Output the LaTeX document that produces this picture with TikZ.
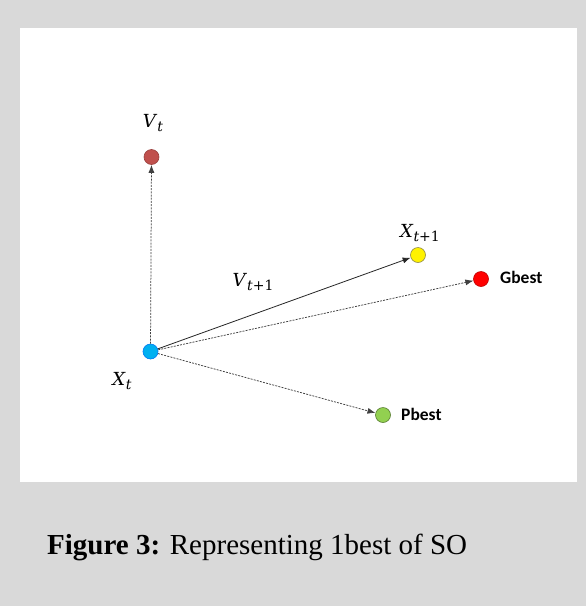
\documentclass[tikz,border=0pt]{standalone}
\usepackage{fontspec}
\setmainfont{Liberation Serif}
\newfontfamily\labfont{Carlito}
\newfontfamily\mlabfont{DejaVu Serif}
\usetikzlibrary{arrows.meta}
\definecolor{bggray}{HTML}{D9D9D9}
\definecolor{vtcol}{HTML}{C0504D}
\definecolor{xtcol}{HTML}{00B0F0}
\definecolor{pbcol}{HTML}{92D050}
\newcommand{\msub}[2]{\textit{#1}\raisebox{-4pt}{\fontsize{14}{16}\selectfont #2}}
\begin{document}
\begin{tikzpicture}[x=1pt,y=-1pt,
  pt/.style={circle,inner sep=0pt,minimum size=15pt,line width=0.6pt},
  mlab/.style={inner sep=0pt,font=\mlabfont\fontsize{18}{20}\selectfont},
  blab/.style={inner sep=0pt,anchor=west,font=\labfont\bfseries\fontsize{17.5}{19}\selectfont},
  dline/.style={draw=black!75,line width=0.75pt,dash pattern=on 2pt off 1.2pt,-{Latex[length=8pt,width=6pt]}},
  sline/.style={draw=black!85,line width=0.8pt,-{Latex[length=8pt,width=6pt]}}]
\fill[bggray] (0,0) rectangle (586,606);
\useasboundingbox (0,0) rectangle (586,606);
\fill[white] (20,28) rectangle (577,482);
% points
\node[pt,fill=xtcol,draw=xtcol!70!blue] (xt) at (150.5,351.5) {};
\node[pt,fill=vtcol,draw=vtcol!80!black] (vt) at (151.5,157) {};
\node[pt,fill=yellow,draw=yellow!50!black] (xt1) at (418,255) {};
\node[pt,fill=red,draw=red!75!black] (gb) at (481,279) {};
\node[pt,fill=pbcol,draw=pbcol!60!black] (pb) at (383,415) {};
% labels
\node[mlab] (lvt) at (153,123) {\msub{V}{\textit{t}}};
\node[mlab] (lxt) at (122,381) {\msub{X}{\textit{t}}};
\node[mlab] (lxt1) at (420,233) {\msub{X}{\textit{t}+1}};
\node[mlab] (lvt1) at (253,282) {\msub{V}{\textit{t}+1}};
\node[blab] (lgb) at (500,277) {Gbest};
\node[blab] (lpb) at (401,414) {Pbest};
% connectors
\draw[dline] (xt) -- (vt);
\draw[sline] (xt) -- (xt1);
\draw[dline] (xt) -- (gb);
\draw[dline] (xt) -- (pb);
% caption
\node[anchor=base west,inner sep=0pt,font=\fontsize{29}{32}\selectfont] (cap) at (47,554) {\textbf{Figure 3:} Representing 1best of SO};
\end{tikzpicture}
\end{document}
